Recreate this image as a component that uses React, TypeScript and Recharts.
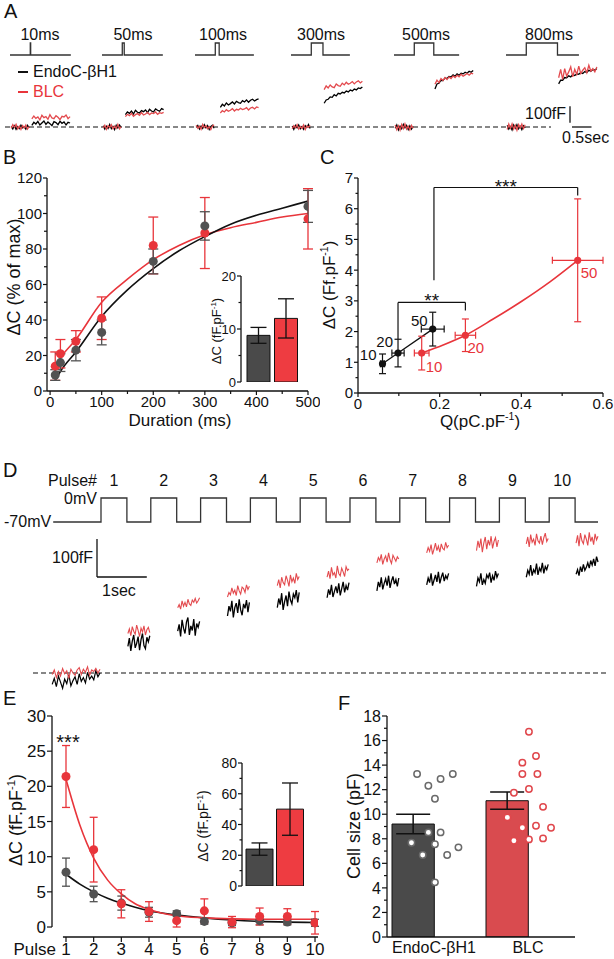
import React from 'react';
import { ComposedChart, Line, Scatter, Bar, XAxis, YAxis, ErrorBar, ReferenceLine, Cell } from 'recharts';

const FONT = '"Liberation Sans", Arial, Helvetica, sans-serif';
const INK = '#111111';
const DARK = '#525252';
const RED = '#e8353b';
const TRACE_RED = '#e34a4e';
const PROTO = '#333333';
const BAR_DARK = '#4a4a4a';
const BAR_RED = '#ee3c41';
const F_RED = '#d94b4f';

/* ======================= DATA ======================= */
// ---- Panel A : depolarisations of increasing length ----
const aPulseMs = [10, 50, 100, 300, 500, 800];
const aPulseLabels = ['10ms', '50ms', '100ms', '300ms', '500ms', '800ms'];
const aProtocolEndS = [1.56, 1.56, 1.51, 1.51, 1.67, 1.87];
const aPreEndo = [
  [4, -12, 8, -15, 2, -10, 12, -6, 0, -14, 10, -4],
  [8, -13, 5, -9, 15, -11, 3, -16, 11, -6, 13, -2],
  [-2, 10, -13, 6, -9, 14, -5, 9, -15, 3, 11, -8],
  [6, -15, 10, -5, 13, -11, 3, -14, 8, -3, 15, -9],
  [-8, 13, -18, 6, -11, 16, -5, 10, -16, 8, -13, 3],
  [10, -13, 3, -18, 13, -8, 15, -11, 5, -16, 8, -6],
];
const aPreBlc = [
  [-8, 14, -2, 16, -12, 6, -15, 9, -5, 12, -13, 3],
  [-6, 11, -15, 8, -3, 14, -10, 5, -9, 16, -12, 2],
  [10, -8, 5, -14, 16, -3, 8, -11, 2, -16, 6, 13],
  [-11, 8, -5, 15, -13, 3, -8, 13, -16, 6, -2, 10],
  [13, -16, 8, -20, 15, -10, 20, -13, 5, -18, 10, -8],
  [-15, 18, -8, 20, -13, 10, -20, 15, -5, 18, -10, 13],
];
const aPostEndo = [
  [10, 28, 18, 34, 12, 24, 36, 16, 30, 20, 8, 32, 26, 14, 34, 22, 30, 12, 28, 24],
  [74, 90, 82, 96, 78, 100, 88, 84, 98, 92, 102, 86, 106, 96, 90, 108, 100, 94, 110, 104],
  [118, 136, 126, 144, 132, 140, 150, 138, 154, 146, 142, 158, 150, 162, 148, 160, 166, 156, 164, 168],
  [142, 162, 166, 180, 178, 194, 186, 202, 198, 208, 204, 216, 210, 222, 216, 228, 222, 234, 230, 240],
  [228, 258, 262, 280, 278, 294, 290, 302, 300, 312, 304, 318, 310, 322, 318, 328, 322, 334, 328, 338],
  [258, 280, 280, 296, 294, 306, 300, 314, 308, 318, 316, 326, 320, 332, 326, 340, 334, 344, 340, 350],
];
const aPostBlc = [
  [48, 66, 52, 60, 42, 70, 56, 62, 46, 74, 54, 50, 68, 58, 44, 64, 60, 72, 50, 62],
  [62, 76, 68, 82, 64, 74, 80, 70, 86, 72, 78, 88, 74, 84, 80, 90, 76, 86, 82, 88],
  [84, 98, 90, 104, 94, 100, 110, 96, 106, 102, 112, 104, 108, 116, 102, 114, 118, 108, 120, 116],
  [224, 246, 234, 252, 240, 236, 258, 248, 244, 262, 252, 268, 256, 262, 272, 258, 270, 276, 264, 274],
  [256, 280, 266, 290, 278, 296, 284, 300, 290, 306, 296, 310, 300, 316, 304, 312, 320, 310, 322, 318],
  [295, 345, 285, 350, 305, 330, 360, 300, 345, 315, 365, 320, 340, 355, 325, 370, 335, 350, 330, 360],
];

// ---- Panel B ----
const bDuration = [10, 20, 50, 100, 200, 300, 500];
const bEndoMean = [9, 16, 23, 33, 73, 93, 104];
const bEndoSem = [3, 5, 6, 7, 7, 8, 9];
const bBlcMean = [14, 21, 28, 41, 82, 89, 97];
const bBlcSem = [8, 8, 6, 12, 16, 20, 17];
const bFitDuration = [10, 20, 50, 100, 150, 200, 250, 300, 350, 400, 450, 500];
const bFitEndo = [6, 11, 22, 42, 57, 69, 79, 87, 94, 99, 103, 107];
const bFitBlc = [13.5, 18.5, 29, 50, 63, 74, 82, 88, 92, 95, 98, 100];
const bXTicks = [0, 50, 100, 150, 200, 250, 300, 350, 400, 450, 500];
const bXMajor = [0, 100, 200, 300, 400, 500];
const bYTicks = [0, 10, 20, 30, 40, 50, 60, 70, 80, 90, 100, 110, 120];
const bYMajor = [0, 20, 40, 60, 80, 100, 120];
const cellGroups = ['EndoC-βH1', 'BLC'];
const bInsetMean = [8.8, 12.0];
const bInsetSem = [1.5, 3.7];
const bInsetTicks = [0, 5, 10, 15, 20];
const bInsetMajor = [0, 10, 20];

// ---- Panel C ----
const cPulseLabels = ['10', '20', '50'];
const cEndoQ = [0.06, 0.098, 0.183];
const cEndoQSem = [0.005, 0.015, 0.028];
const cEndoDC = [0.95, 1.3, 2.08];
const cEndoDCSem = [0.32, 0.45, 0.55];
const cBlcQ = [0.156, 0.263, 0.538];
const cBlcQSem = [0.018, 0.025, 0.062];
const cBlcDC = [1.3, 1.88, 4.32];
const cBlcDCSem = [0.55, 0.53, 2.0];
const cBlcCurveQ = [0.156, 0.21, 0.263, 0.33, 0.4, 0.47, 0.538];
const cBlcCurveDC = [1.3, 1.57, 1.88, 2.4, 2.98, 3.62, 4.32];
const cSigLabel = ['**', '***'];
const cSigQFrom = [0.098, 0.186];
const cSigQTo = [0.263, 0.538];
const cSigLevel = [2.95, 6.69];
const cSigLeftFoot = [1.75, 3.67];
const cSigRightFoot = [2.69, 6.43];
const cXTicks = [0, 0.1, 0.2, 0.3, 0.4, 0.5, 0.6];
const cXMajor = [0, 0.2, 0.4, 0.6];
const cYTicks = [0, 0.5, 1, 1.5, 2, 2.5, 3, 3.5, 4, 4.5, 5, 5.5, 6, 6.5, 7];
const cYMajor = [0, 1, 2, 3, 4, 5, 6, 7];

// ---- Panel D : train of ten 500 ms pulses ----
const dPulseOnsetS = [0, 1, 2, 3, 4, 5, 6, 7, 8, 9];
const dPulseWidthS = 0.52;
const dHoldStartS = -0.96;
const dHoldEndS = 9.98;
const HOLD_MV = -70;
const STEP_MV = 0;
const dPreEndo = [-30, -14, -36, -8, -24, -40, -16, -28, -4, -34, -20, -10, -30, -2, -22, -12, -26, 2, -16, -8, -18, 6, -10, 0];
const dPreBlc = [-4, 8, -12, 4, -8, 12, -2, 6, -14, 10, 0, -6, 8, 14, -4, 10, 2, 16, -6, 8, 4, 12, 0, 10];
const dPostEndo = [
  [70, 92, 58, 84, 100, 66, 78, 96, 60, 88, 104, 72, 64, 94, 82, 98],
  [110, 128, 96, 140, 118, 104, 134, 146, 100, 124, 112, 142, 98, 130, 120, 136],
  [150, 176, 162, 190, 146, 172, 184, 158, 194, 166, 152, 182, 170, 192, 160, 186],
  [172, 196, 180, 210, 166, 188, 204, 176, 214, 192, 182, 208, 198, 218, 186, 212],
  [198, 220, 206, 232, 200, 214, 228, 210, 236, 204, 222, 240, 212, 230, 218, 238],
  [216, 240, 226, 252, 220, 236, 248, 230, 256, 224, 242, 254, 234, 246, 228, 250],
  [232, 250, 238, 262, 230, 244, 258, 240, 266, 236, 252, 264, 242, 256, 248, 262],
  [228, 250, 240, 262, 232, 246, 236, 258, 250, 264, 238, 256, 244, 268, 252, 262],
  [252, 270, 260, 284, 256, 272, 264, 288, 258, 276, 268, 290, 262, 280, 272, 286],
  [260, 272, 256, 280, 266, 286, 270, 278, 290, 276, 296, 284, 300, 282, 306, 292],
];
const dPostBlc = [
  [104, 116, 98, 122, 110, 102, 126, 112, 96, 118, 108, 124, 100, 114, 120, 106],
  [172, 180, 168, 190, 176, 186, 174, 194, 182, 178, 192, 186, 196, 184, 190, 198],
  [200, 212, 206, 224, 210, 218, 204, 230, 216, 208, 226, 222, 212, 232, 220, 228],
  [230, 246, 224, 252, 238, 232, 256, 244, 228, 258, 240, 250, 236, 262, 246, 254],
  [252, 268, 248, 278, 258, 264, 250, 282, 262, 256, 276, 266, 254, 280, 270, 274],
  [290, 304, 296, 312, 286, 300, 308, 292, 316, 298, 288, 310, 302, 294, 306, 300],
  [316, 330, 320, 338, 312, 326, 342, 322, 334, 318, 340, 328, 324, 344, 330, 336],
  [322, 348, 330, 354, 318, 342, 358, 326, 350, 336, 360, 328, 346, 356, 332, 350],
  [340, 358, 332, 364, 344, 352, 336, 366, 348, 342, 360, 338, 356, 368, 346, 354],
  [342, 362, 334, 368, 348, 340, 364, 352, 336, 370, 346, 358, 338, 366, 350, 360],
];

// ---- Panel E ----
const ePulse = [1, 2, 3, 4, 5, 6, 7, 8, 9, 10];
const eEndoMean = [7.8, 4.7, 3.4, 2.1, 1.9, 0.8, 0.6, 0.9, 0.7, 0.6];
const eEndoSem = [2.0, 1.1, 1.0, 0.7, 0.4, 0.4, 0.4, 0.6, 0.4, 0.5];
const eBlcMean = [21.4, 11.0, 3.3, 2.2, 0.9, 2.3, 0.7, 1.5, 1.5, 0.6];
const eBlcSem = [4.4, 4.6, 2.0, 1.4, 0.9, 1.7, 0.8, 1.2, 1.1, 1.6];
const eFitPulse = [1, 1.5, 2, 2.5, 3, 3.5, 4, 5, 6, 7, 8, 9, 10];
const eFitEndo = [7.5, 6.1, 5.0, 4.1, 3.4, 2.8, 2.3, 1.7, 1.3, 1.0, 0.8, 0.7, 0.65];
const eFitBlc = [21, 14.5, 9.8, 6.7, 4.7, 3.3, 2.5, 1.6, 1.3, 1.15, 1.1, 1.1, 1.1];
const eYTicks = [0, 5, 10, 15, 20, 25, 30];
const eInsetMean = [24, 50];
const eInsetSem = [4, 17];
const eInsetTicks = [0, 10, 20, 30, 40, 50, 60, 70, 80];
const eInsetMajor = [0, 20, 40, 60, 80];

// ---- Panel F ----
const fMean = [9.2, 11.1];
const fSem = [0.8, 0.7];
const fEndoCells = [13.27, 12.32, 12.87, 13.27, 11.26, 8.52, 8.52, 7.68, 7.55, 6.68, 6.68, 7.3, 4.45];
const fEndoJitter = [0.32, 0.44, 0.57, 0.7, 0.51, 0.44, 0.57, 0.26, 0.51, 0.38, 0.64, 0.76, 0.51];
const fBlcCells = [16.72, 14.74, 14.2, 13.27, 13.27, 12.05, 11.75, 10.6, 9.74, 8.9, 9.06, 8.9, 7.84, 7.95, 8.03];
const fBlcJitter = [1.51, 1.585, 1.44, 1.44, 1.6, 1.51, 1.35, 1.66, 1.28, 1.44, 1.585, 1.745, 1.35, 1.51, 1.66];
const fYTicks = [0, 1, 2, 3, 4, 5, 6, 7, 8, 9, 10, 11, 12, 13, 14, 15, 16, 17, 18];
const fYMajor = [0, 2, 4, 6, 8, 10, 12, 14, 16, 18];

/* ======================= HELPERS ======================= */
const xDomain = (l: number, r: number, ap: number, av: number, ppu: number): [number, number] => [
  av + (l - ap) / ppu,
  av + (r - ap) / ppu,
];
const yDomain = (t: number, b: number, ap: number, av: number, ppu: number): [number, number] => [
  av - (b - ap) / ppu,
  av + (ap - t) / ppu,
];
const spread = (vals: number[], t0: number, t1: number) =>
  vals.map((c, k) => ({ t: t0 + ((t1 - t0) * k) / (vals.length - 1), c }));

const AXIS = { stroke: INK, strokeWidth: 1.3 };
const isIn = (arr: number[], v: number) => arr.some((m) => Math.abs(m - v) < 1e-9);

function makeYTick(majors: number[], fs: number, majorLen = 5, minorLen = 3, gap = 2) {
  return (p: any) => {
    const v = Number(p.payload.value);
    const major = isIn(majors, v);
    const len = major ? majorLen : minorLen;
    return (
      <g>
        <line x1={p.x} y1={p.y} x2={p.x - len} y2={p.y} stroke={INK} strokeWidth={1.2} />
        {major ? (
          <text x={p.x - majorLen - gap} y={p.y} dy="0.36em" textAnchor="end" fontSize={fs} fontFamily={FONT} fill={INK}>
            {String(v)}
          </text>
        ) : null}
      </g>
    );
  };
}
function makeXTick(majors: number[] | null, fs: number, majorLen = 5, minorLen = 3, showLine = true, gap = 0) {
  return (p: any) => {
    const raw = p.payload.value;
    const major = majors === null ? true : isIn(majors, Number(raw));
    const len = major ? majorLen : minorLen;
    return (
      <g>
        {showLine ? <line x1={p.x} y1={p.y} x2={p.x} y2={p.y + len} stroke={INK} strokeWidth={1.2} /> : null}
        {major ? (
          <text x={p.x} y={p.y + (showLine ? majorLen : 0) + gap} dy="0.78em" textAnchor="middle" fontSize={fs} fontFamily={FONT} fill={INK}>
            {String(raw)}
          </text>
        ) : null}
      </g>
    );
  };
}

const Box = ({ x, y, children }: { x: number; y: number; children: React.ReactNode }) => (
  <div style={{ position: 'absolute', left: x, top: y }}>{children}</div>
);

function Txt(props: {
  x: number; y: number; size?: number; anchor?: 'start' | 'middle' | 'end'; rotate?: boolean; color?: string; children: React.ReactNode;
}) {
  const { x, y, size = 16, anchor = 'middle', rotate = false, color = INK, children } = props;
  const tx = anchor === 'middle' ? '-50%' : anchor === 'end' ? '-100%' : '0%';
  return (
    <div
      style={{
        position: 'absolute', left: x, top: y, fontSize: size, lineHeight: 1, color, whiteSpace: 'nowrap',
        fontFamily: FONT, transform: `translate(${tx}, -50%)${rotate ? ' rotate(-90deg)' : ''}`,
      }}
    >
      {children}
    </div>
  );
}
const Sup = ({ children }: { children: React.ReactNode }) => (
  <span style={{ fontSize: '0.62em', verticalAlign: '0.6em', lineHeight: 0 }}>{children}</span>
);

const noAnim = { isAnimationActive: false, dot: false, activeDot: false } as const;

/* ======================= PANEL A ======================= */
const A_W = 614, A_H = 150, A_PX_PER_S = 39;
const A_GROUP_LEFT_PX = [10, 102, 195, 291, 394, 506];
const A_LABEL_X = [40, 133, 223, 321, 426, 549];
const A_ONSET_S = 0.52;
const A_HOLD_Y = 55, A_STEP_Y = 43, A_ZERO_Y = 127, A_PX_PER_FF = 0.167;

function PanelA() {
  const xd = xDomain(0, A_W, 0, 0, A_PX_PER_S);
  const vd = yDomain(0, A_H, A_HOLD_Y, HOLD_MV, (A_HOLD_Y - A_STEP_Y) / (STEP_MV - HOLD_MV));
  const cd = yDomain(0, A_H, A_ZERO_Y, 0, A_PX_PER_FF);
  const off = A_GROUP_LEFT_PX.map((p) => p / A_PX_PER_S);
  const protocols = aPulseMs.map((ms, i) => {
    const on = off[i] + A_ONSET_S;
    const end = on + ms / 1000;
    return [
      { t: off[i], v: HOLD_MV }, { t: on, v: HOLD_MV }, { t: on, v: STEP_MV },
      { t: end, v: STEP_MV }, { t: end, v: HOLD_MV }, { t: off[i] + aProtocolEndS[i], v: HOLD_MV },
    ];
  });
  const pre = (vals: number[], i: number) => spread(vals, off[i] + 0.03, off[i] + 0.49);
  const post = (vals: number[], i: number) => {
    const s = off[i] + A_ONSET_S + aPulseMs[i] / 1000 + 0.03;
    return spread(vals, s, s + 0.98);
  };
  const sx = (p: number) => p / A_PX_PER_S;
  return (
    <ComposedChart width={A_W} height={A_H} margin={{ top: 0, right: 0, bottom: 0, left: 0 }}>
      <XAxis type="number" dataKey="t" domain={xd} hide allowDataOverflow />
      <YAxis yAxisId="v" type="number" domain={vd} hide allowDataOverflow />
      <YAxis yAxisId="c" type="number" domain={cd} hide allowDataOverflow />
      <ReferenceLine yAxisId="c" segment={[{ x: sx(5), y: 0 }, { x: sx(551), y: 0 }]} stroke={INK} strokeWidth={1.2} strokeDasharray="5 3" ifOverflow="visible" />
      {protocols.map((d, i) => (
        <Line key={'p' + i} yAxisId="v" data={d} dataKey="v" type="linear" stroke={PROTO} strokeWidth={1.3} {...noAnim} />
      ))}
      {aPreEndo.map((v, i) => (
        <Line key={'pe' + i} yAxisId="c" data={pre(v, i)} dataKey="c" type="linear" stroke="#000" strokeWidth={1.2} {...noAnim} />
      ))}
      {aPreBlc.map((v, i) => (
        <Line key={'pb' + i} yAxisId="c" data={pre(v, i)} dataKey="c" type="linear" stroke={TRACE_RED} strokeWidth={1.2} {...noAnim} />
      ))}
      {aPostEndo.map((v, i) => (
        <Line key={'qe' + i} yAxisId="c" data={post(v, i)} dataKey="c" type="linear" stroke="#000" strokeWidth={1.3} {...noAnim} />
      ))}
      {aPostBlc.map((v, i) => (
        <Line key={'qb' + i} yAxisId="c" data={post(v, i)} dataKey="c" type="linear" stroke={TRACE_RED} strokeWidth={1.3} {...noAnim} />
      ))}
      <ReferenceLine yAxisId="c" segment={[{ x: sx(570), y: 25 }, { x: sx(570), y: 125 }]} stroke={INK} strokeWidth={1.3} ifOverflow="visible" />
      <ReferenceLine yAxisId="c" segment={[{ x: sx(572), y: 0 }, { x: sx(572) + 0.5, y: 0 }]} stroke={INK} strokeWidth={1.3} ifOverflow="visible" />
    </ComposedChart>
  );
}

/* ======================= PANEL B ======================= */
function PanelB() {
  const endo = bDuration.map((x, i) => ({ x, y: bEndoMean[i], e: bEndoSem[i] }));
  const blc = bDuration.map((x, i) => ({ x, y: bBlcMean[i], e: bBlcSem[i] }));
  const fitE = bFitDuration.map((x, i) => ({ x, y: bFitEndo[i] }));
  const fitB = bFitDuration.map((x, i) => ({ x, y: bFitBlc[i] }));
  const dot = (fill: string) => (p: any) => <circle cx={p.cx} cy={p.cy} r={4.5} fill={fill} />;
  return (
    <ComposedChart width={320} height={270} margin={{ top: 18, right: 12, bottom: 0, left: 0 }}>
      <XAxis type="number" dataKey="x" domain={[-6, 500]} ticks={bXTicks} interval={0} tickLine={false} tickSize={0} tickMargin={0}
        tick={makeXTick(bXMajor, 15, 4, 3)} axisLine={AXIS} height={39} allowDataOverflow />
      <YAxis type="number" domain={[0, 120]} ticks={bYTicks} interval={0} tickLine={false} tickSize={0} tickMargin={0}
        tick={makeYTick(bYMajor, 15, 4, 3, 1)} axisLine={AXIS} width={47} allowDataOverflow />
      <Line data={fitB} dataKey="y" type="monotone" stroke={RED} strokeWidth={1.6} {...noAnim} />
      <Line data={fitE} dataKey="y" type="monotone" stroke={INK} strokeWidth={1.6} {...noAnim} />
      <Scatter data={blc} dataKey="y" isAnimationActive={false} shape={dot(RED)}>
        <ErrorBar dataKey="e" direction="y" width={5} stroke={RED} strokeWidth={1.3} />
      </Scatter>
      <Scatter data={endo} dataKey="y" isAnimationActive={false} shape={dot(DARK)}>
        <ErrorBar dataKey="e" direction="y" width={5} stroke={DARK} strokeWidth={1.3} />
      </Scatter>
    </ComposedChart>
  );
}

function InsetBars(props: { mean: number[]; sem: number[]; ticks: number[]; majors: number[]; domain: [number, number];
  width: number; height: number; margin: any; yWidth: number; barSize: number; padLeft: number; fs: number; cap: number }) {
  const data = cellGroups.map((name, i) => ({ name, y: props.mean[i], e: props.sem[i] }));
  return (
    <ComposedChart width={props.width} height={props.height} data={data} margin={props.margin}>
      <XAxis type="category" dataKey="name" hide padding={{ left: props.padLeft, right: 0 }} />
      <YAxis type="number" domain={props.domain} ticks={props.ticks} interval={0} tickLine={false} tickSize={0} tickMargin={0}
        tick={makeYTick(props.majors, props.fs, 4, 2.5, 1)} axisLine={AXIS} width={props.yWidth} allowDataOverflow />
      <Bar dataKey="y" barSize={props.barSize} stroke={INK} strokeWidth={1} isAnimationActive={false}>
        <Cell fill={BAR_DARK} />
        <Cell fill={BAR_RED} />
        <ErrorBar dataKey="e" direction="y" width={props.cap} stroke={INK} strokeWidth={1.3} />
      </Bar>
    </ComposedChart>
  );
}

/* ======================= PANEL C ======================= */
const C_LABEL_STYLE = {
  endo: [{ dx: -6, dy: -9, anchor: 'end' }, { dx: -5, dy: -11, anchor: 'end' }, { dx: -5, dy: -9, anchor: 'end' }],
  blc: [{ dx: 4, dy: 14, anchor: 'start' }, { dx: 2, dy: 12, anchor: 'start' }, { dx: 3, dy: 12, anchor: 'start' }],
};
function PanelC() {
  const endo = cEndoQ.map((x, i) => ({ x, y: cEndoDC[i], ex: cEndoQSem[i], ey: cEndoDCSem[i], lab: cPulseLabels[i], k: i }));
  const blc = cBlcQ.map((x, i) => ({ x, y: cBlcDC[i], ex: cBlcQSem[i], ey: cBlcDCSem[i], lab: cPulseLabels[i], k: i }));
  const curve = cBlcCurveQ.map((x, i) => ({ x, y: cBlcCurveDC[i] }));
  const sigText = cSigLabel.map((s, i) => ({ x: (cSigQFrom[i] + cSigQTo[i]) / 2, y: cSigLevel[i], s }));
  const labelShape = (style: any[], color: string) => (p: any) => {
    const st = style[p.payload.k];
    return (
      <text x={p.cx + st.dx} y={p.cy + st.dy} dy="0.36em" textAnchor={st.anchor} fontSize={15} fontFamily={FONT} fill={color}>
        {p.payload.lab}
      </text>
    );
  };
  const dot = (fill: string) => (p: any) => <circle cx={p.cx} cy={p.cy} r={3.6} fill={fill} />;
  return (
    <ComposedChart width={304} height={260} margin={{ top: 13, right: 11, bottom: 0, left: 0 }}>
      <XAxis type="number" dataKey="x" domain={[0, 0.6]} ticks={cXTicks} interval={0} tickLine={false} tickSize={0} tickMargin={0}
        tick={makeXTick(cXMajor, 15, 4, 3)} axisLine={AXIS} height={32} allowDataOverflow />
      <YAxis type="number" domain={[0, 7]} ticks={cYTicks} interval={0} tickLine={false} tickSize={0} tickMargin={0}
        tick={makeYTick(cYMajor, 15, 4, 2.5, 1)} axisLine={AXIS} width={48} allowDataOverflow />
      {cSigLabel.map((s, i) => (
        <ReferenceLine key={'sl' + i} segment={[{ x: cSigQFrom[i], y: cSigLeftFoot[i] }, { x: cSigQFrom[i], y: cSigLevel[i] }]} stroke={INK} strokeWidth={1.2} ifOverflow="visible" />
      ))}
      {cSigLabel.map((s, i) => (
        <ReferenceLine key={'sm' + i} segment={[{ x: cSigQFrom[i], y: cSigLevel[i] }, { x: cSigQTo[i], y: cSigLevel[i] }]} stroke={INK} strokeWidth={1.2} ifOverflow="visible" />
      ))}
      {cSigLabel.map((s, i) => (
        <ReferenceLine key={'sr' + i} segment={[{ x: cSigQTo[i], y: cSigLevel[i] }, { x: cSigQTo[i], y: cSigRightFoot[i] }]} stroke={INK} strokeWidth={1.2} ifOverflow="visible" />
      ))}
      <Line data={endo} dataKey="y" type="linear" stroke={INK} strokeWidth={1.3} {...noAnim} />
      <Line data={curve} dataKey="y" type="monotone" stroke={RED} strokeWidth={1.6} {...noAnim} />
      <Scatter data={endo} dataKey="y" isAnimationActive={false} shape={dot(INK)}>
        <ErrorBar dataKey="ey" direction="y" width={3.5} stroke={INK} strokeWidth={1.2} />
        <ErrorBar dataKey="ex" direction="x" width={3.5} stroke={INK} strokeWidth={1.2} />
      </Scatter>
      <Scatter data={blc} dataKey="y" isAnimationActive={false} shape={dot(RED)}>
        <ErrorBar dataKey="ey" direction="y" width={3.5} stroke={RED} strokeWidth={1.2} />
        <ErrorBar dataKey="ex" direction="x" width={3.5} stroke={RED} strokeWidth={1.2} />
      </Scatter>
      <Scatter data={endo} dataKey="y" isAnimationActive={false} shape={labelShape(C_LABEL_STYLE.endo, INK)} />
      <Scatter data={blc} dataKey="y" isAnimationActive={false} shape={labelShape(C_LABEL_STYLE.blc, RED)} />
      <Scatter data={sigText} dataKey="y" isAnimationActive={false}
        shape={(p: any) => (
          <text x={p.cx} y={p.cy + 5} textAnchor="middle" fontSize={19} fontFamily={FONT} fill={INK}>{p.payload.s}</text>
        )} />
    </ComposedChart>
  );
}

/* ======================= PANEL D ======================= */
const D_TOP = 460, D_H = 240, D_W = 614;
const D_T0_X = 101, D_PX_PER_S = 49.8;
const D_HOLD_Y = 522, D_STEP_Y = 498, D_ZERO_Y = 673, D_PX_PER_FF = 0.38;

function PanelD() {
  const xd = xDomain(0, D_W, D_T0_X, 0, D_PX_PER_S);
  const vd = yDomain(D_TOP, D_TOP + D_H, D_HOLD_Y, HOLD_MV, (D_HOLD_Y - D_STEP_Y) / (STEP_MV - HOLD_MV));
  const cd = yDomain(D_TOP, D_TOP + D_H, D_ZERO_Y, 0, D_PX_PER_FF);
  const sx = (p: number) => (p - D_T0_X) / D_PX_PER_S;
  const protocol = [
    { t: dHoldStartS, v: HOLD_MV },
    ...dPulseOnsetS.flatMap((o) => [
      { t: o, v: HOLD_MV }, { t: o, v: STEP_MV }, { t: o + dPulseWidthS, v: STEP_MV }, { t: o + dPulseWidthS, v: HOLD_MV },
    ]),
    { t: dHoldEndS, v: HOLD_MV },
  ];
  const pre = (vals: number[]) => spread(vals, -0.98, -0.02);
  const post = (vals: number[], i: number) => spread(vals, dPulseOnsetS[i] + dPulseWidthS + 0.02, dPulseOnsetS[i] + 0.98);
  const bar0 = (D_ZERO_Y - 577) / D_PX_PER_FF;
  return (
    <ComposedChart width={D_W} height={D_H} margin={{ top: 0, right: 0, bottom: 0, left: 0 }}>
      <XAxis type="number" dataKey="t" domain={xd} hide allowDataOverflow />
      <YAxis yAxisId="v" type="number" domain={vd} hide allowDataOverflow />
      <YAxis yAxisId="c" type="number" domain={cd} hide allowDataOverflow />
      <ReferenceLine yAxisId="c" segment={[{ x: sx(33), y: 0 }, { x: sx(607), y: 0 }]} stroke={INK} strokeWidth={1.2} strokeDasharray="5 3" ifOverflow="visible" />
      <Line yAxisId="v" data={protocol} dataKey="v" type="linear" stroke={PROTO} strokeWidth={1.3} {...noAnim} />
      <Line yAxisId="c" data={pre(dPreEndo)} dataKey="c" type="linear" stroke="#000" strokeWidth={1.2} {...noAnim} />
      <Line yAxisId="c" data={pre(dPreBlc)} dataKey="c" type="linear" stroke={TRACE_RED} strokeWidth={1.1} {...noAnim} />
      {dPostEndo.map((v, i) => (
        <Line key={'de' + i} yAxisId="c" data={post(v, i)} dataKey="c" type="linear" stroke="#000" strokeWidth={1.3} {...noAnim} />
      ))}
      {dPostBlc.map((v, i) => (
        <Line key={'db' + i} yAxisId="c" data={post(v, i)} dataKey="c" type="linear" stroke={TRACE_RED} strokeWidth={1.1} {...noAnim} />
      ))}
      <ReferenceLine yAxisId="c" segment={[{ x: sx(97), y: bar0 }, { x: sx(97), y: bar0 + 100 }]} stroke={INK} strokeWidth={1.3} ifOverflow="visible" />
      <ReferenceLine yAxisId="c" segment={[{ x: sx(97), y: bar0 }, { x: sx(97) + 1, y: bar0 }]} stroke={INK} strokeWidth={1.3} ifOverflow="visible" />
    </ComposedChart>
  );
}

/* ======================= PANEL E ======================= */
const E_Y_MIN = -1.42;
const E_X_DOMAIN: [number, number] = [0.494, 10.108];
function PanelE() {
  const endo = ePulse.map((x, i) => ({ x, y: eEndoMean[i], e: eEndoSem[i] }));
  const blc = ePulse.map((x, i) => ({ x, y: eBlcMean[i], e: eBlcSem[i] }));
  const fitE = eFitPulse.map((x, i) => ({ x, y: eFitEndo[i] }));
  const fitB = eFitPulse.map((x, i) => ({ x, y: eFitBlc[i] }));
  const dot = (fill: string) => (p: any) => <circle cx={p.cx} cy={p.cy} r={4.5} fill={fill} />;
  return (
    <ComposedChart width={330} height={253} margin={{ top: 10, right: 12, bottom: 0, left: 0 }}>
      <XAxis type="number" dataKey="x" domain={E_X_DOMAIN} ticks={ePulse} interval={0} tickLine={false} tickSize={0} tickMargin={0}
        tick={makeXTick(null, 17, 5, 3)} axisLine={false} height={22} allowDataOverflow />
      <YAxis type="number" domain={[E_Y_MIN, 30]} ticks={eYTicks} interval={0} tickLine={false} tickSize={0} tickMargin={0}
        tick={makeYTick(eYTicks, 17, 5, 3, 1)} axisLine={false} width={52} allowDataOverflow />
      <ReferenceLine segment={[{ x: E_X_DOMAIN[0], y: 0 }, { x: E_X_DOMAIN[0], y: 30 }]} stroke={INK} strokeWidth={1.3} ifOverflow="visible" />
      <ReferenceLine segment={[{ x: 0.89, y: E_Y_MIN }, { x: E_X_DOMAIN[1], y: E_Y_MIN }]} stroke={INK} strokeWidth={1.3} ifOverflow="visible" />
      <Line data={fitE} dataKey="y" type="monotone" stroke={INK} strokeWidth={1.6} {...noAnim} />
      <Line data={fitB} dataKey="y" type="monotone" stroke={RED} strokeWidth={1.6} {...noAnim} />
      <Scatter data={endo} dataKey="y" isAnimationActive={false} shape={dot(DARK)}>
        <ErrorBar dataKey="e" direction="y" width={4} stroke={DARK} strokeWidth={1.3} />
      </Scatter>
      <Scatter data={blc} dataKey="y" isAnimationActive={false} shape={dot(RED)}>
        <ErrorBar dataKey="e" direction="y" width={4} stroke={RED} strokeWidth={1.3} />
      </Scatter>
    </ComposedChart>
  );
}

/* ======================= PANEL F ======================= */
function PanelF() {
  const bars = cellGroups.map((name, i) => ({ name, y: fMean[i], e: fSem[i] }));
  const endo = fEndoCells.map((y, i) => ({ x: fEndoJitter[i], y }));
  const blc = fBlcCells.map((y, i) => ({ x: fBlcJitter[i], y }));
  const ring = (stroke: string) => (p: any) => (
    <circle cx={p.cx} cy={p.cy} r={3.2} fill="#ffffff" stroke={stroke} strokeWidth={1.5} />
  );
  return (
    <ComposedChart width={260} height={253} data={bars} margin={{ top: 10, right: 15, bottom: 0, left: 0 }}>
      <XAxis xAxisId="c" type="category" dataKey="name" tickLine={false} tickSize={0} tickMargin={0}
        tick={makeXTick(null, 16, 5, 3, false, 4)} axisLine={AXIS} height={22} interval={0} />
      <XAxis xAxisId="n" type="number" dataKey="x" domain={[0, 2]} hide allowDataOverflow />
      <YAxis type="number" domain={[0, 18]} ticks={fYTicks} interval={0} tickLine={false} tickSize={0} tickMargin={0}
        tick={makeYTick(fYMajor, 16, 5, 3, 1)} axisLine={AXIS} width={57} allowDataOverflow />
      <Bar xAxisId="c" dataKey="y" barSize={60} stroke={INK} strokeWidth={1} isAnimationActive={false}>
        <Cell fill={BAR_DARK} />
        <Cell fill={F_RED} />
      </Bar>
      <Scatter xAxisId="n" data={endo} dataKey="y" isAnimationActive={false} shape={ring('#6a6a6a')} />
      <Scatter xAxisId="n" data={blc} dataKey="y" isAnimationActive={false} shape={ring('#e0474c')} />
      <Bar xAxisId="c" dataKey="y" barSize={60} fill="none" stroke="none" isAnimationActive={false}>
        <ErrorBar dataKey="e" direction="y" width={17} stroke={INK} strokeWidth={1.5} />
      </Bar>
    </ComposedChart>
  );
}

/* ======================= APP ======================= */
export default function App() {
  return (
    <div style={{ position: 'absolute', left: 0, top: 0, width: 614, height: 959, background: '#ffffff', overflow: 'hidden', fontFamily: FONT }}>
      <Box x={0} y={0}><PanelA /></Box>
      <Box x={0} y={160}><PanelB /></Box>
      <Box x={200} y={262}>
        <InsetBars mean={bInsetMean} sem={bInsetSem} ticks={bInsetTicks} majors={bInsetMajor} domain={[0, 20]}
          width={105} height={130} margin={{ top: 14, right: 5, bottom: 10, left: 0 }} yWidth={41} barSize={23} padLeft={4} fs={13} cap={8} />
      </Box>
      <Box x={310} y={165}><PanelC /></Box>
      <Box x={0} y={D_TOP}><PanelD /></Box>
      <Box x={0} y={706}><PanelE /></Box>
      <Box x={190} y={752}>
        <InsetBars mean={eInsetMean} sem={eInsetSem} ticks={eInsetTicks} majors={eInsetMajor} domain={[0, 80]}
          width={120} height={142} margin={{ top: 11, right: 5, bottom: 8, left: 0 }} yWidth={52} barSize={27} padLeft={2} fs={14} cap={8} />
      </Box>
      <Box x={330} y={706}><PanelF /></Box>

      {/* Panel A text */}
      <Txt x={4} y={11} size={20} anchor="start">A</Txt>
      {aPulseLabels.map((l, i) => (
        <Txt key={l} x={A_LABEL_X[i]} y={35} size={16}>{l}</Txt>
      ))}
      <div style={{ position: 'absolute', left: 18, top: 71, width: 10, height: 2, background: INK }} />
      <Txt x={33} y={72} size={16} anchor="start">EndoC-βH1</Txt>
      <div style={{ position: 'absolute', left: 18, top: 91, width: 10, height: 2, background: RED }} />
      <Txt x={33} y={92} size={16} anchor="start" color={RED}>BLC</Txt>
      <Txt x={566} y={114} size={16} anchor="end">100fF</Txt>
      <Txt x={562} y={138} size={16} anchor="start">0.5sec</Txt>

      {/* Panel B text */}
      <Txt x={3} y={157} size={20} anchor="start">B</Txt>
      <Txt x={14} y={277} size={18} rotate>ΔC (% of max)</Txt>
      <Txt x={180} y={420} size={17}>Duration (ms)</Txt>
      <Txt x={216} y={331} size={13} rotate>ΔC (fF.pF<Sup>-1</Sup>)</Txt>

      {/* Panel C text */}
      <Txt x={320} y={157} size={20} anchor="start">C</Txt>
      <Txt x={329} y={285} size={17} rotate>ΔC (Ff.pF<Sup>-1</Sup>)</Txt>
      <Txt x={480} y={421} size={17}>Q(pC.pF<Sup>-1</Sup>)</Txt>

      {/* Panel D text */}
      <Txt x={3} y={470} size={20} anchor="start">D</Txt>
      <Txt x={48} y={481} size={16} anchor="start">Pulse#</Txt>
      {dPulseOnsetS.map((o, i) => (
        <Txt key={'pn' + i} x={D_T0_X + (o + dPulseWidthS / 2) * D_PX_PER_S} y={481} size={16}>{String(i + 1)}</Txt>
      ))}
      <Txt x={97} y={499} size={16} anchor="end">0mV</Txt>
      <Txt x={4} y={522} size={16} anchor="start">-70mV</Txt>
      <Txt x={93} y={558} size={16} anchor="end">100fF</Txt>
      <Txt x={102} y={591} size={16} anchor="start">1sec</Txt>

      {/* Panel E text */}
      <Txt x={3} y={698} size={20} anchor="start">E</Txt>
      <Txt x={68} y={742} size={20}>***</Txt>
      <Txt x={16} y={820} size={18} rotate>ΔC (fF.pF<Sup>-1</Sup>)</Txt>
      <Txt x={203} y={826} size={14} rotate>ΔC (fF.pF<Sup>-1</Sup>)</Txt>
      <Txt x={56} y={949} size={17} anchor="end">Pulse</Txt>

      {/* Panel F text */}
      <Txt x={338} y={703} size={20} anchor="start">F</Txt>
      <Txt x={354} y={826} size={18} rotate>Cell size (pF)</Txt>
    </div>
  );
}
